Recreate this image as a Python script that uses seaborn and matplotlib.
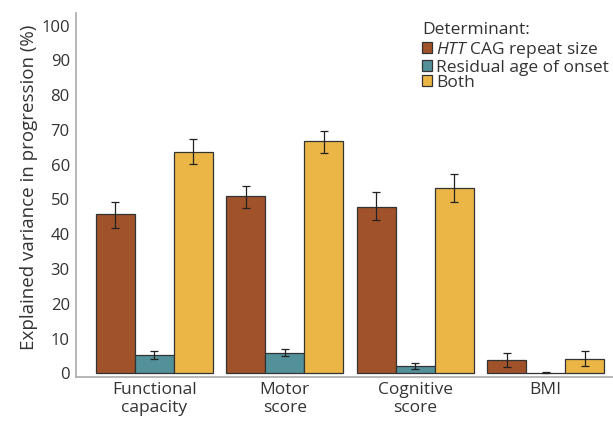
import numpy as np
import pandas as pd
import matplotlib
matplotlib.use("Agg")
import matplotlib.pyplot as plt
import seaborn as sns

# Data
outcomes = ["Functional\ncapacity", "Motor\nscore", "Cognitive\nscore", "BMI"]
determinants = ["HTT CAG repeat size", "Residual age of onset", "Both"]
htt_vals = [45.7, 50.9, 47.7, 3.7]
htt_lo = [41.8, 47.6, 44.1, 1.9]
htt_hi = [49.4, 54.0, 52.2, 5.8]
res_vals = [5.3, 5.9, 2.0, 0.1]
res_lo = [4.0, 5.0, 1.1, 0.0]
res_hi = [6.5, 7.1, 3.1, 0.4]
both_vals = [63.7, 66.7, 53.2, 4.1]
both_lo = [60.1, 63.4, 49.4, 2.2]
both_hi = [67.3, 69.8, 57.3, 6.3]
y_ticks = [0, 10, 20, 30, 40, 50, 60, 70, 80, 90, 100]

colors = ["#A0522A", "#52909A", "#ECB646"]

def main():
    sns.set_style("white")
    plt.rcParams["font.family"] = ["Open Sans", "DejaVu Sans"]
    plt.rcParams["mathtext.fontset"] = "custom"
    plt.rcParams["mathtext.it"] = "Open Sans:italic"
    plt.rcParams["mathtext.rm"] = "Open Sans"

    rows = []
    for det, vals, lo, hi in [(determinants[0], htt_vals, htt_lo, htt_hi),
                              (determinants[1], res_vals, res_lo, res_hi),
                              (determinants[2], both_vals, both_lo, both_hi)]:
        for o, v, l, h in zip(outcomes, vals, lo, hi):
            rows.append({"Outcome": o, "Determinant": det, "Value": v, "Lo": l, "Hi": h})
    df = pd.DataFrame(rows)

    fig = plt.figure(figsize=(6.13, 4.21), dpi=100)
    ax = fig.add_axes([0.124, 0.105, 0.876, 0.864])

    sns.barplot(data=df, x="Outcome", y="Value", hue="Determinant",
                hue_order=determinants, order=outcomes, palette=colors,
                errorbar=None, width=0.9, saturation=1,
                edgecolor="#333333", linewidth=0.9, ax=ax)

    # error bars placed on the bar centres
    for container, det in zip(ax.containers, determinants):
        sub = df[df["Determinant"] == det].set_index("Outcome").loc[outcomes]
        xs = [p.get_x() + p.get_width() / 2 for p in container.patches]
        yerr = [sub["Value"] - sub["Lo"], sub["Hi"] - sub["Value"]]
        ax.errorbar(xs, sub["Value"], yerr=yerr, fmt="none", ecolor="#222222",
                    elinewidth=0.9, capsize=3.2, capthick=0.9)

    ax.set_ylim(-1.0, 103.6)
    ax.set_xlim(-0.6, 3.516)
    ax.set_yticks(y_ticks)
    ax.set_xlabel("")
    ax.set_ylabel("Explained variance in progression (%)", fontsize=13.5, color="#333333")
    ax.yaxis.set_label_coords(-0.07, 0.522)
    ax.tick_params(axis="both", labelsize=12, colors="#333333", length=2.5,
                   color="#999999", width=0.8, pad=2)
    ax.tick_params(axis="x", labelsize=12.5, pad=1.5)
    for lbl in ax.get_xticklabels():
        lbl.set_linespacing(1.1)

    sns.despine(ax=ax)
    for s in ["left", "bottom"]:
        ax.spines[s].set_color("#aaaaaa")
        ax.spines[s].set_linewidth(1.2)

    handles, _ = ax.get_legend_handles_labels()
    labels = [r"$\it{HTT}$ CAG repeat size", "Residual age of onset", "Both"]
    leg = ax.legend(handles, labels, title="Determinant:", loc="upper left",
                    bbox_to_anchor=(422 / 613, 1 - 22 / 421),
                    bbox_transform=fig.transFigure, frameon=False, fontsize=12.5,
                    title_fontsize=12.5, handlelength=0.6, handleheight=0.6,
                    handletextpad=0.2, labelspacing=-0.03, borderpad=0,
                    borderaxespad=0)
    leg._legend_box.align = "left"
    leg._legend_box.sep = 1.5
    for t in leg.get_texts():
        t.set_color("#333333")
    leg.get_title().set_color("#333333")

    fig.savefig("out.png", dpi=100)
    plt.close(fig)

if __name__ == "__main__":
    main()
